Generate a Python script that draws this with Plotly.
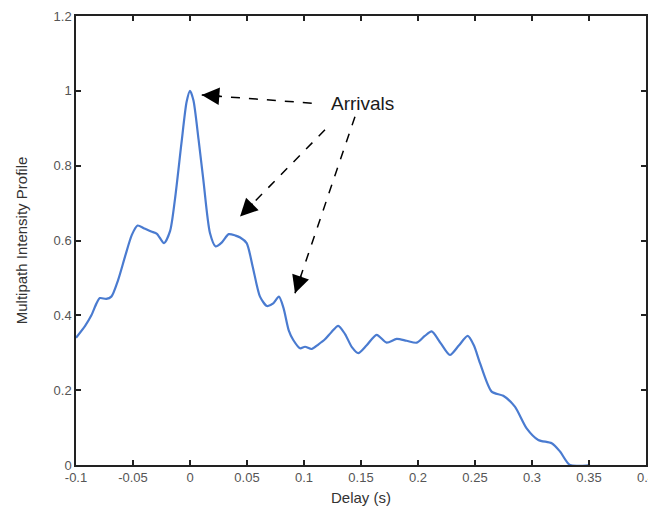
import plotly.graph_objects as go

delay = [-0.1, -0.092, -0.0865, -0.082, -0.079, -0.0735, -0.069, -0.063, -0.057, -0.051,
         -0.046, -0.040, -0.034, -0.029, -0.0228, -0.0175, -0.0132, -0.0075, -0.003, 0.0,
         0.003, 0.0075, 0.0117, 0.0175, 0.0225, 0.028, 0.034, 0.040, 0.044, 0.0497,
         0.055, 0.0614, 0.0675, 0.073, 0.078, 0.082, 0.0866, 0.0906, 0.0965, 0.1009,
         0.1067, 0.1125, 0.1184, 0.124, 0.130, 0.136, 0.142, 0.1476, 0.155, 0.1637,
         0.1725, 0.1813, 0.19, 0.1989, 0.206, 0.212, 0.22, 0.228, 0.236, 0.2436,
         0.249, 0.2544, 0.2646, 0.2748, 0.285, 0.2953, 0.3055, 0.3173, 0.3246, 0.3333,
         0.351]
intensity = [0.340, 0.372, 0.400, 0.432, 0.446, 0.444, 0.450, 0.495, 0.557, 0.615,
             0.640, 0.632, 0.624, 0.618, 0.593, 0.625, 0.710, 0.860, 0.970, 1.000,
             0.975, 0.870, 0.762, 0.620, 0.584, 0.595, 0.617, 0.613, 0.608, 0.593,
             0.530, 0.450, 0.425, 0.432, 0.450, 0.420, 0.360, 0.334, 0.312, 0.316,
             0.310, 0.322, 0.336, 0.355, 0.372, 0.350, 0.315, 0.299, 0.320, 0.348,
             0.327, 0.337, 0.332, 0.327, 0.345, 0.357, 0.325, 0.294, 0.320, 0.345,
             0.320, 0.272, 0.196, 0.185, 0.156, 0.098, 0.067, 0.058, 0.036, 0.0,
             0.0]

x_ticks = [-0.1, -0.05, 0, 0.05, 0.1, 0.15, 0.2, 0.25, 0.3, 0.35, 0.4]
x_labels = ["-0.1", "-0.05", "0", "0.05", "0.1", "0.15", "0.2", "0.25", "0.3", "0.35", "0.4"]
y_ticks = [0, 0.2, 0.4, 0.6, 0.8, 1.0, 1.2]
y_labels = ["0", "0.2", "0.4", "0.6", "0.8", "1", "1.2"]

arrow_tips_x = [0.0103, 0.0439, 0.0921]
arrow_tips_y = [0.989, 0.664, 0.459]
arrow_tails_x = [0.1068, 0.1184, 0.1447]
arrow_tails_y = [0.967, 0.896, 0.931]
label_text = "Arrivals"
label_x, label_y = 0.1509, 0.965

fig = go.Figure()
fig.add_trace(go.Scatter(x=delay, y=intensity, mode="lines",
                         line=dict(color="#4a7bd0", width=2.2, shape="spline", smoothing=0.7),
                         showlegend=False, hoverinfo="skip"))

head_offsets = [(20, 1.5), (14, -14.3), (6.4, -19)]
for tx, ty, sx, sy, (hx, hy) in zip(arrow_tips_x, arrow_tips_y, arrow_tails_x, arrow_tails_y, head_offsets):
    fig.add_shape(type="line", x0=sx, y0=sy, x1=tx, y1=ty, xref="x", yref="y",
                  line=dict(color="black", width=1.5, dash="dash"))
    fig.add_annotation(x=tx, y=ty, ax=hx, ay=hy, text="", showarrow=True,
                       arrowhead=2, arrowsize=2.2, arrowwidth=1.6, arrowcolor="black",
                       standoff=0)

fig.add_annotation(x=label_x, y=label_y, text=label_text, showarrow=False,
                   font=dict(family="Liberation Sans, Arial", size=19, color="#1a1a1a"),
                   bgcolor="white")

axis_common = dict(showline=True, linecolor="#222", linewidth=1.5, mirror="ticks",
                   ticks="inside", ticklen=5, tickwidth=1.5, tickcolor="#222",
                   showgrid=False, zeroline=False, automargin=False,
                   tickfont=dict(family="Liberation Sans, Arial", size=13, color="#555"))

# page body has an 8px default margin, so the figure is offset by it
fig.update_layout(
    width=650, height=509,
    margin=dict(l=68, r=12, t=8, b=52),
    paper_bgcolor="white", plot_bgcolor="white",
    xaxis=dict(range=[-0.1, 0.4], tickvals=x_ticks, ticktext=x_labels,
               title=dict(text="Delay (s)", standoff=8,
                          font=dict(family="Liberation Sans, Arial", size=15, color="#333")),
               **axis_common),
    yaxis=dict(range=[0, 1.2], tickvals=y_ticks, ticktext=y_labels,
               title=dict(text="Multipath Intensity Profile", standoff=22,
                          font=dict(family="Liberation Sans, Arial", size=15, color="#333")),
               **axis_common),
)

fig.write_html("out.html")
